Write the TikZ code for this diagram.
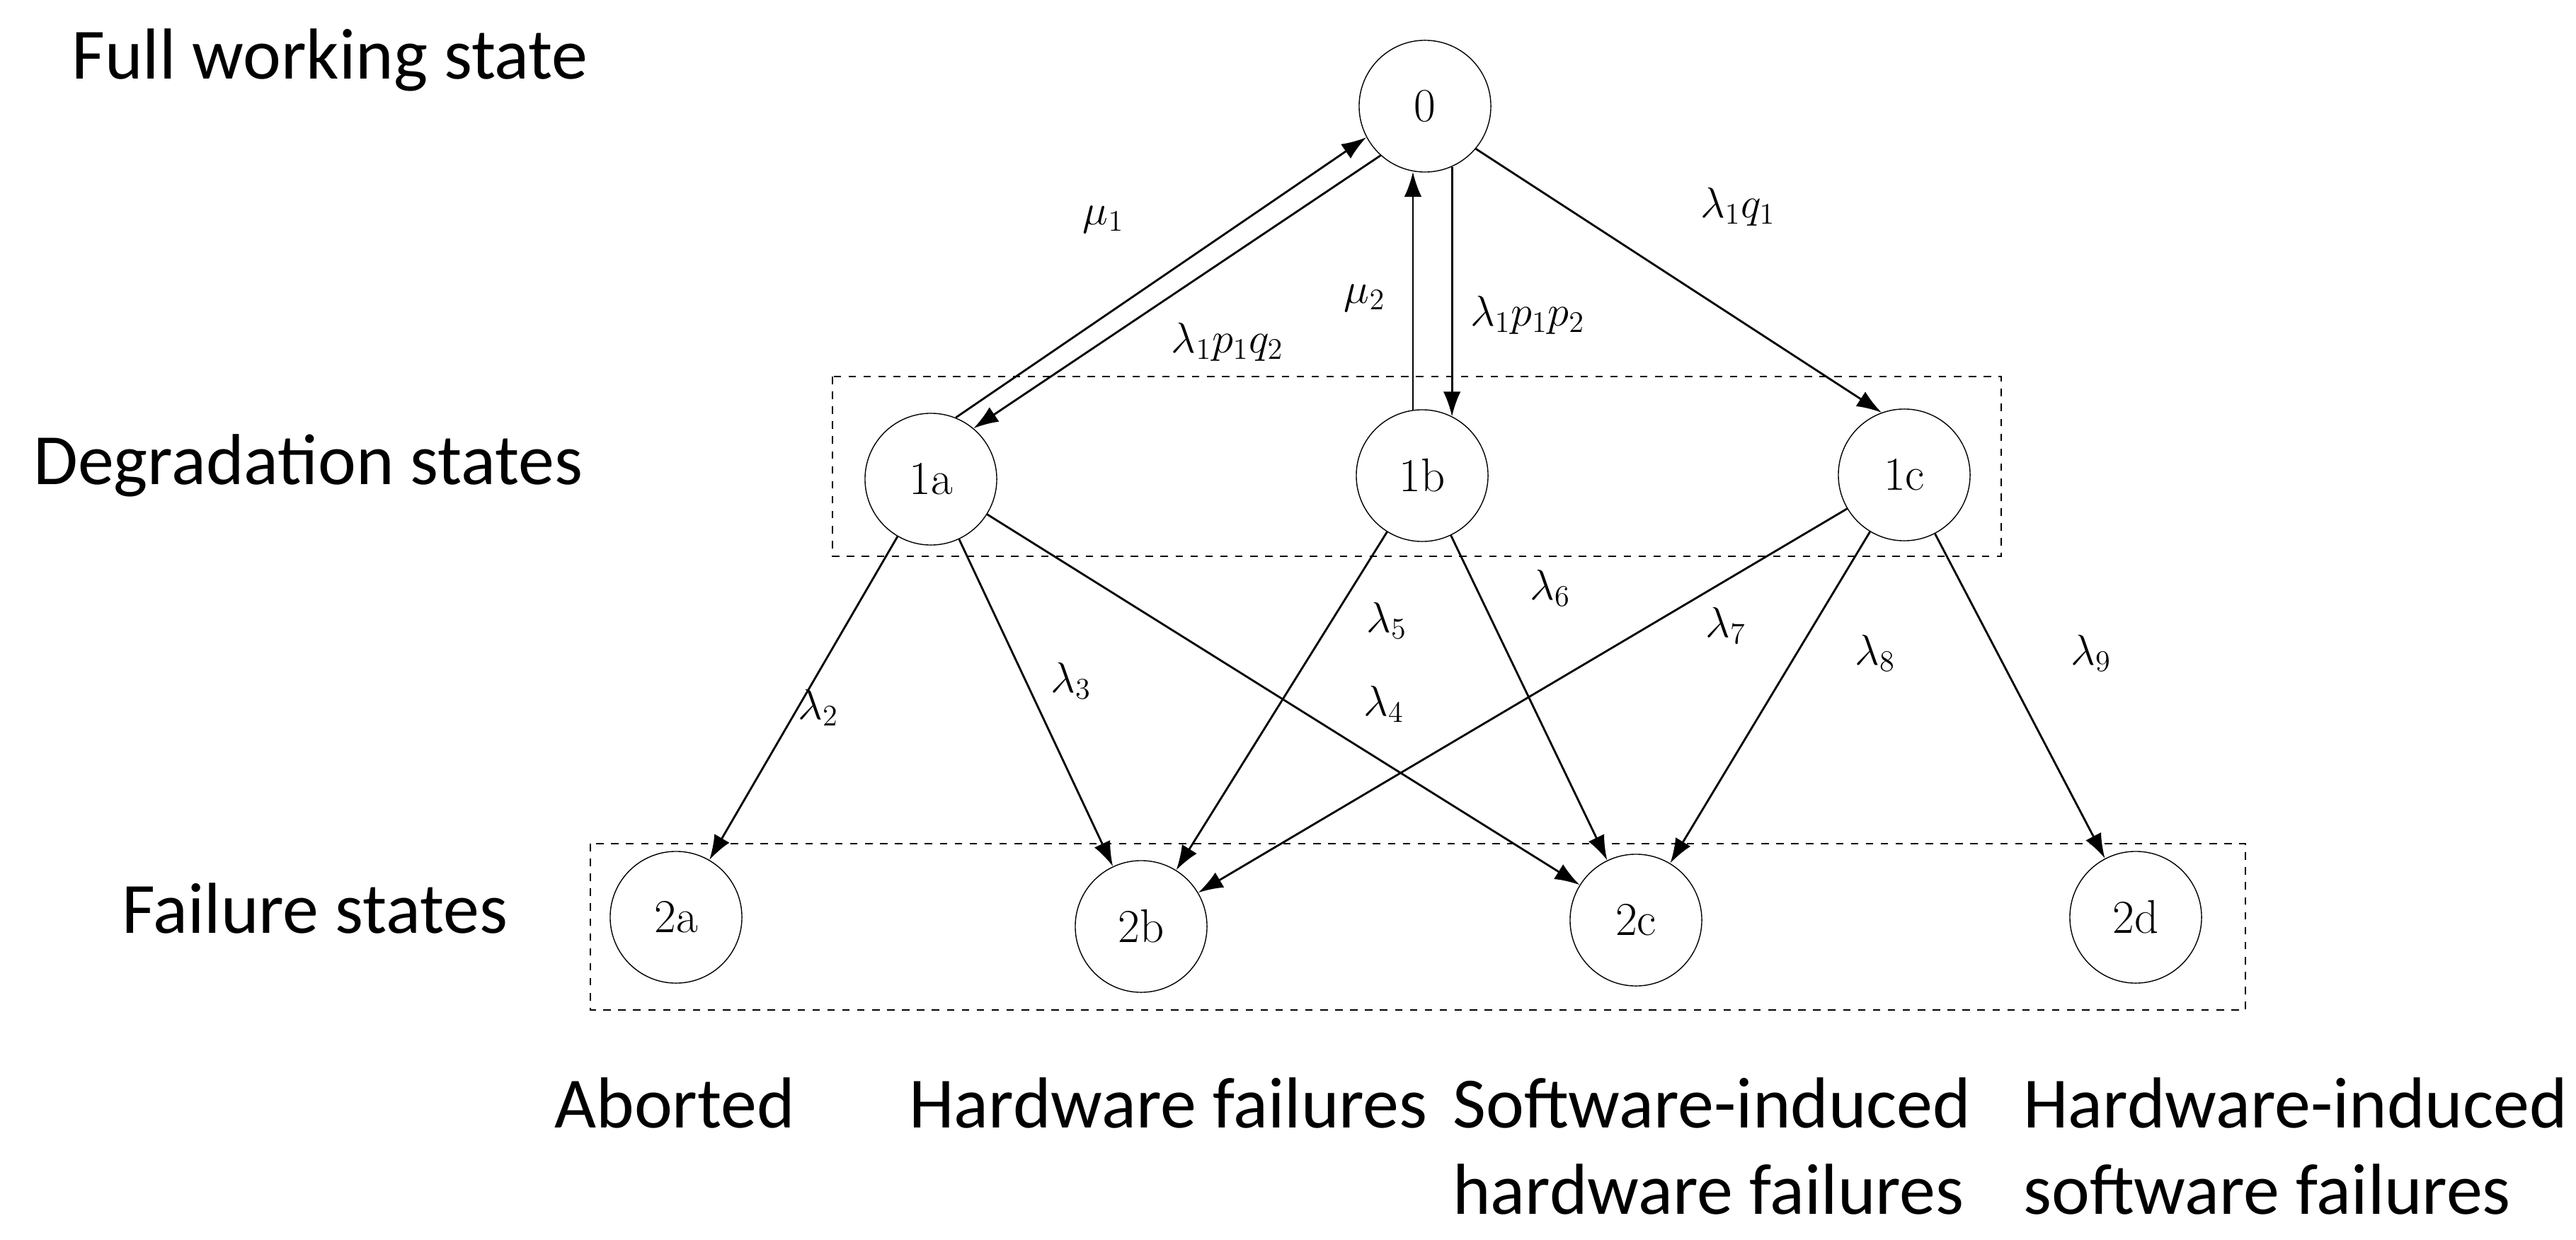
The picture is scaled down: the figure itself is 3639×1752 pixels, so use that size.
\documentclass[tikz,border=0pt]{standalone}
\usepackage{fontspec}
\newfontfamily\sidefont{Carlito}
\usetikzlibrary{arrows.meta}
\begin{document}
\begin{tikzpicture}[x=0.01cm,y=-0.01cm,
    state/.style={circle,draw,minimum size=1.86cm,inner sep=0pt,font=\fontsize{19}{21}\selectfont},
    side/.style={font=\sidefont\fontsize{29}{34.6}\selectfont,align=left},
    rate/.style={font=\fontsize{18}{20}\selectfont},
    tr/.style={-{Latex[length=10pt,width=7pt]},thick},
    box/.style={draw,dashed,thick}]
\useasboundingbox (0,0) rectangle (3639,1752);

% states
\node[state] (s0) at (2013,150) {0};
\node[state] (a1) at (1315,677) {1a};
\node[state] (b1) at (2009,672) {1b};
\node[state] (c1) at (2690,671) {1c};
\node[state] (a2) at (955,1296) {2a};
\node[state] (b2) at (1612,1309) {2b};
\node[state] (c2) at (2311,1300) {2c};
\node[state] (d2) at (3017,1296) {2d};

% groups
\draw[box] (1176,532) rectangle (2827,786);
\draw[box] (834,1192) rectangle (3172,1427);

% side texts
\node[side,anchor=base west] at (89,112) {Full working state};
\node[side,anchor=base west] at (35,684) {Degradation states};
\node[side,anchor=base west] at (160,1318) {Failure states};
\node[side,anchor=base west] at (771,1593) {Aborted};
\node[side,anchor=base west] at (1272,1593) {Hardware failures};
\node[side,anchor=base west] at (2040,1593) {Software-induced};
\node[side,anchor=base west] at (2040,1715) {hardware failures};
\node[side,anchor=base west] at (2846,1593) {Hardware-induced};
\node[side,anchor=base west] at (2846,1715) {software failures};

% transitions
\draw[tr] (a1.68) -- (s0.208);
\draw[tr] (s0.228) -- (a1.50);
\draw[tr] (b1.98) -- (b1.98 |- s0.262);
\draw[tr] (s0.294) -- (s0.294 |- b1.63);
\draw[tr] (s0.320) -- (c1.110);
\draw[tr] (a1) -- (a2);
\draw[tr] (a1) -- (b2);
\draw[tr] (a1) -- (c2);
\draw[tr] (b1) -- (b2);
\draw[tr] (b1) -- (c2);
\draw[tr] (c1) -- (b2);
\draw[tr] (c1) -- (c2);
\draw[tr] (c1) -- (d2);

% rates
\node[rate] at (1559,310) {$\mu_1$};
\node[rate] at (1734,483) {$\lambda_1p_1q_2$};
\node[rate] at (1928,421) {$\mu_2$};
\node[rate] at (2158,445) {$\lambda_1p_1p_2$};
\node[rate] at (2455,292) {$\lambda_1q_1$};
\node[rate] at (1156,1000) {$\lambda_2$};
\node[rate] at (1513,962) {$\lambda_3$};
\node[rate] at (1955,995) {$\lambda_4$};
\node[rate] at (1959,877) {$\lambda_5$};
\node[rate] at (2190,831) {$\lambda_6$};
\node[rate] at (2438,884) {$\lambda_7$};
\node[rate] at (2649,923) {$\lambda_8$};
\node[rate] at (2954,923) {$\lambda_9$};
\end{tikzpicture}
\end{document}
